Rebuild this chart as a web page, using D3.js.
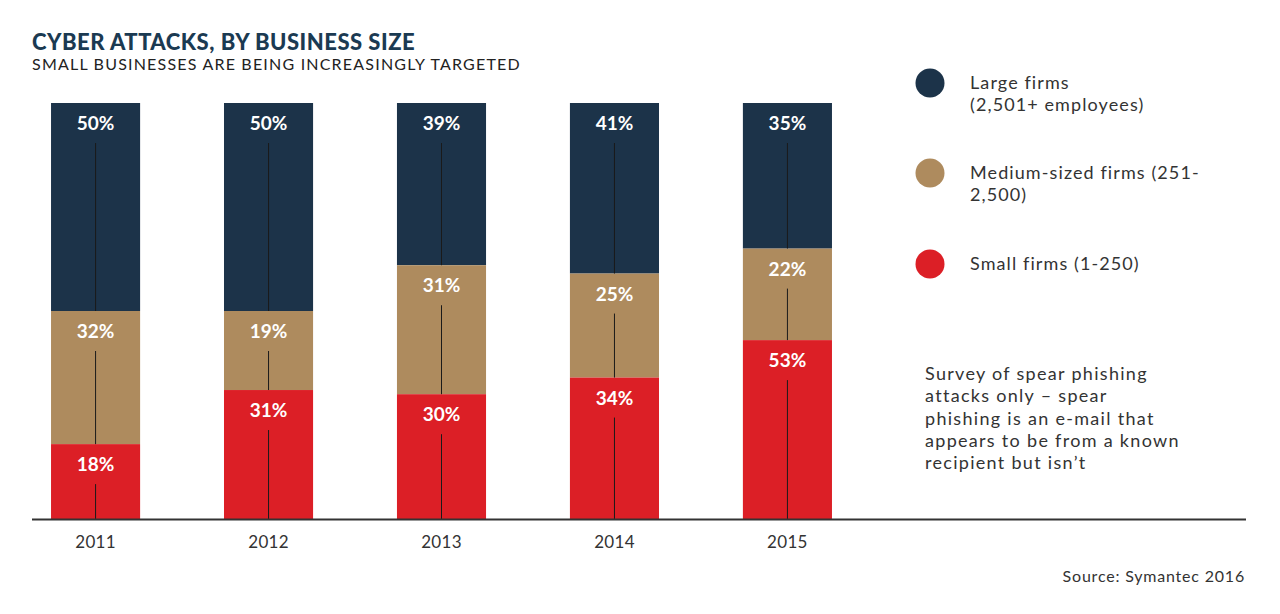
<!DOCTYPE html>
<html>
<head>
<meta charset="utf-8">
<script src="https://cdn.jsdelivr.net/npm/d3@7/dist/d3.min.js"></script>
<style>
  body { margin: 0; background: #fff; }
  text { font-family: Lato, "Open Sans", sans-serif; }
</style>
</head>
<body>
<script>
var width = 1280, height = 614;

// data
var years = ["2011", "2012", "2013", "2014", "2015"];
var large  = [50, 50, 39, 41, 35];
var medium = [32, 19, 31, 25, 22];
var small  = [18, 31, 30, 34, 53];
var seriesNames = ["Large firms", "Medium-sized firms", "Small firms"];
var legendLines = [["Large firms", "(2,501+ employees)"],
                   ["Medium-sized firms (251-", "2,500)"],
                   ["Small firms (1-250)"]];
var colors = ["#1c3349", "#ae8b5e", "#dc1f26"];
var noteLines = ["Survey of spear phishing", "attacks only \u2013 spear",
                 "phishing is an e-mail that", "appears to be from a known",
                 "recipient but isn\u2019t"];

// segments stacked from the top of the bar down (the small-firm segment fills what is left)
var segs = [];
years.forEach(function(yr, i) {
  var t1 = 100 - large[i], t2 = t1 - medium[i];
  segs.push({ year: yr, key: 0, v: large[i],  y0: t1, y1: 100 });
  segs.push({ year: yr, key: 1, v: medium[i], y0: t2, y1: t1 });
  segs.push({ year: yr, key: 2, v: small[i],  y0: 0,  y1: t2 });
});

var svg = d3.select("body").append("svg")
  .attr("width", width).attr("height", height);

var x = d3.scaleBand().domain(years).range([9, 874]).paddingInner(0.485).paddingOuter(0.243);
var y = d3.scaleLinear().domain([0, 100]).range([519, 103]);
var cx = function(d) { return x(d.year) + x.bandwidth() / 2; };

var g = svg.append("g");
g.selectAll("rect").data(segs).enter().append("rect")
  .attr("x", function(d) { return x(d.year); })
  .attr("width", x.bandwidth())
  .attr("y", function(d) { return y(d.y1); })
  .attr("height", function(d) { return y(d.y0) - y(d.y1); })
  .attr("fill", function(d) { return colors[d.key]; });

// thin center line under each label
g.selectAll("line").data(segs).enter().append("line")
  .attr("x1", cx).attr("x2", cx)
  .attr("y1", function(d) { return y(d.y1) + 40; })
  .attr("y2", function(d) { return y(d.y0); })
  .attr("stroke", "#1a1a1a").attr("stroke-width", 1);

g.selectAll("text").data(segs).enter().append("text")
  .attr("x", cx)
  .attr("y", function(d) { return y(d.y1) + 27; })
  .attr("text-anchor", "middle")
  .attr("fill", "#fff")
  .attr("font-size", "19px")
  .attr("font-weight", "bold")
  .text(function(d) { return d.v + "%"; });

// baseline
svg.append("line")
  .attr("x1", 32).attr("x2", 1246)
  .attr("y1", y(0) + 0.5).attr("y2", y(0) + 0.5)
  .attr("stroke", "#333").attr("stroke-width", 2);

// x labels
var xAxis = svg.append("g").attr("transform", "translate(0," + (y(0) + 1) + ")")
  .call(d3.axisBottom(x).tickSize(0).tickPadding(16));
xAxis.select(".domain").remove();
xAxis.selectAll("text")
  .attr("font-size", "17px").attr("fill", "#333")
  .style("font-family", "Lato, sans-serif")
  .style("letter-spacing", "0.3px");

// title
svg.append("text").attr("x", 32).attr("y", 50)
  .attr("font-size", "22px").attr("font-weight", "900").attr("fill", "#1b3a52")
  .style("letter-spacing", "0.5px")
  .text("CYBER ATTACKS, BY BUSINESS SIZE");
svg.append("text").attr("x", 32).attr("y", 70)
  .attr("font-size", "16px").attr("fill", "#222")
  .style("letter-spacing", "1.2px")
  .text("SMALL BUSINESSES ARE BEING INCREASINGLY TARGETED");

// legend
var legendY = [83, 173, 264];
seriesNames.forEach(function(name, i) {
  svg.append("circle").attr("cx", 930).attr("cy", legendY[i]).attr("r", 14.5)
    .attr("fill", colors[i]);
  var t = svg.append("text").attr("x", 970).attr("y", legendY[i] + 6)
    .attr("font-size", "18px").attr("fill", "#333")
    .style("letter-spacing", "1.1px");
  legendLines[i].forEach(function(line, j) {
    t.append("tspan").attr("x", 970).attr("dy", j === 0 ? 0 : 22).text(line);
  });
});

// note
var note = svg.append("text").attr("x", 925).attr("y", 380)
  .attr("font-size", "18px").attr("fill", "#333")
  .style("letter-spacing", "1.3px");
noteLines.forEach(function(line, j) {
  note.append("tspan").attr("x", 925).attr("dy", j === 0 ? 0 : 22.3).text(line);
});

// source
svg.append("text").attr("x", 1245).attr("y", 582)
  .attr("text-anchor", "end").attr("font-size", "16px").attr("fill", "#333")
  .style("letter-spacing", "0.8px")
  .text("Source: Symantec 2016");
</script>
</body>
</html>
